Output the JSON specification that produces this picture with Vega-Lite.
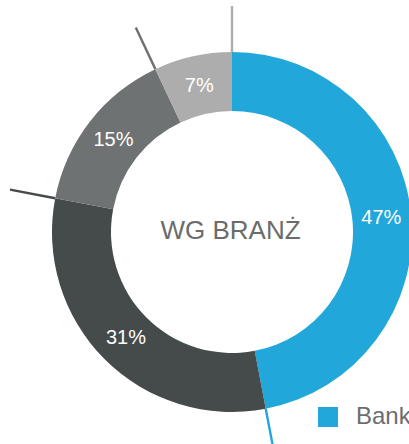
{
  "$schema": "https://vega.github.io/schema/vega-lite/v6.json",
  "width": 354,
  "height": 424,
  "autosize": {"type": "none"},
  "padding": {"left": 55, "top": 20, "right": 0, "bottom": 0},
  "background": "white",
  "config": {"view": {"stroke": null}, "font": "Liberation Sans"},
  "datasets": {
    "shares": [
      {"cat": "Banki", "value": 47, "rank": 1, "label": "47%"},
      {"cat": "Przemysł", "value": 31, "rank": 2, "label": "31%"},
      {"cat": "Usługi", "value": 15, "rank": 3, "label": "15%"},
      {"cat": "Inne", "value": 7, "rank": 4, "label": "7%"}
    ]
  },
  "layer": [
    {
      "data": {"name": "shares"},
      "transform": [
        {"stack": "value", "groupby": [], "sort": [{"field": "rank", "order": "ascending"}], "as": ["s0", "s1"]}
      ],
      "mark": {"type": "arc", "radius": 226, "radius2": 180, "strokeWidth": 2.4, "filled": false},
      "encoding": {
        "theta": {"field": "s1", "type": "quantitative", "scale": {"domain": [0, 100]}},
        "theta2": {"field": "s1"},
        "stroke": {
          "field": "cat", "type": "nominal",
          "scale": {"domain": ["Inne", "Usługi", "Przemysł", "Banki"], "range": ["#ADADAD", "#6F7272", "#444B4A", "#22A7DA"]},
          "legend": null
        }
      }
    },
    {
      "data": {"name": "shares"},
      "mark": {"type": "arc", "radius": 180, "radius2": 121},
      "encoding": {
        "theta": {"field": "value", "type": "quantitative", "stack": true, "scale": {"domain": [0, 100]}},
        "order": {"field": "rank", "type": "quantitative"},
        "color": {
          "field": "cat", "type": "nominal",
          "scale": {"domain": ["Banki", "Przemysł", "Usługi", "Inne"], "range": ["#22A7DA", "#444B4A", "#6F7272", "#ADADAD"]},
          "legend": {
            "orient": "none", "legendX": 261, "legendY": 385, "direction": "horizontal",
            "title": null, "values": ["Banki"], "symbolType": "square", "symbolSize": 400,
            "symbolStrokeWidth": 0, "labelFontSize": 24, "labelColor": "#6d6d6d", "labelOffset": 16,
            "padding": 0, "labelFont": "Liberation Sans"
          }
        }
      }
    },
    {
      "data": {"name": "shares"},
      "mark": {"type": "text", "radius": 150, "fontSize": 20, "color": "white", "baseline": "middle"},
      "encoding": {
        "theta": {"field": "value", "type": "quantitative", "stack": true},
        "order": {"field": "rank", "type": "quantitative"},
        "detail": {"field": "cat"},
        "text": {"field": "label"}
      }
    },
    {
      "data": {"values": [{"t": "WG BRANŻ"}]},
      "mark": {"type": "text", "fontSize": 26, "color": "#6b6b6b", "baseline": "alphabetic", "dy": 7, "dx": -1.5},
      "encoding": {"text": {"field": "t"}}
    }
  ]
}
